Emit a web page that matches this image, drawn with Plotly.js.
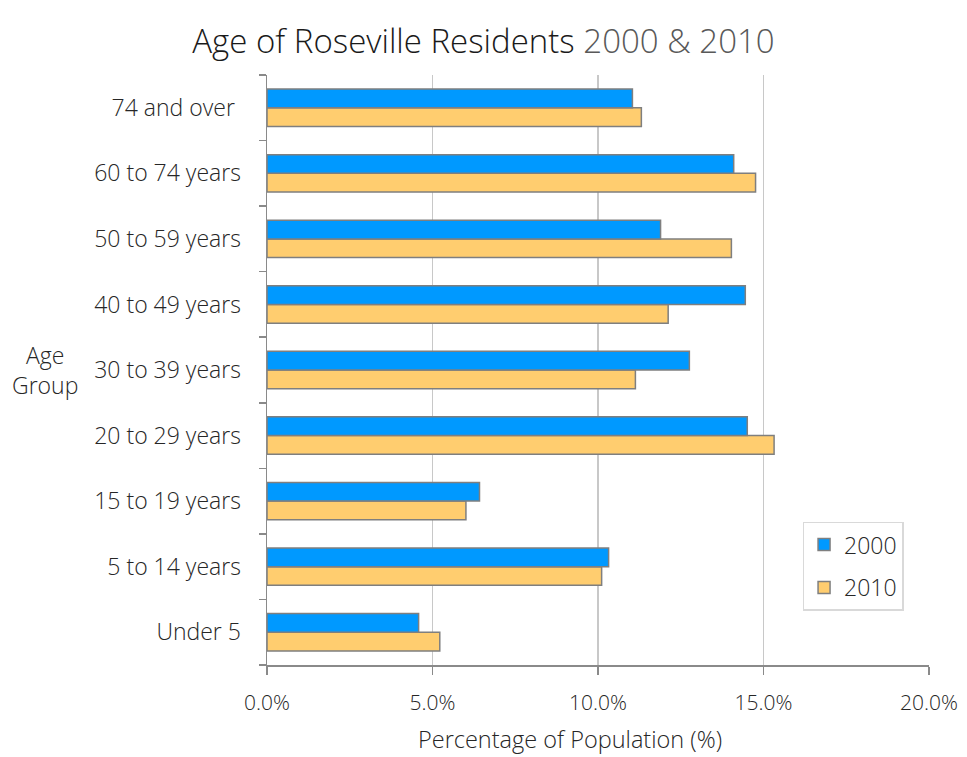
<!DOCTYPE html>
<html>
<head>
<meta charset="utf-8">
<script src="https://cdn.plot.ly/plotly-3.0.1.min.js"></script>
<style>
  html, body { margin: 0; padding: 0; background: #fff; }
  #chart { width: 967px; height: 757px; }
</style>
</head>
<body>
<div id="chart"></div>
<script>
// Age groups, bottom to top
const ageGroups = [
  "Under 5", "5 to 14 years", "15 to 19 years", "20 to 29 years",
  "30 to 39 years", "40 to 49 years", "50 to 59 years", "60 to 74 years",
  "74 and over\u00a0"
];

// Share of population (%) per age group
const pct2000 = [4.58, 10.32, 6.42, 14.51, 12.76, 14.45, 11.89, 14.10, 11.04];
const pct2010 = [5.22, 10.11, 6.01, 15.32, 11.13, 12.12, 14.03, 14.76, 11.31];

const xTicks = [0, 5, 10, 15, 20];

const FONT = "Open Sans, Noto Sans, sans-serif";
const TEXT = "#262626";
const outline = { color: "#7f7f7f", width: 1.5 };

// 2010 is listed first so it sits below 2000 within each group
const traces = [
  {
    type: "bar", orientation: "h", name: "2010", legendgroup: "b", legendrank: 2,
    y: ageGroups, x: pct2010,
    marker: { color: "#FFCD6F", line: outline }
  },
  {
    type: "bar", orientation: "h", name: "2000", legendgroup: "a", legendrank: 1,
    y: ageGroups, x: pct2000,
    marker: { color: "#0099FF", line: outline }
  }
];

const layout = {
  width: 967, height: 757,
  margin: { l: 267, r: 38, t: 75, b: 92 },
  paper_bgcolor: "#fff", plot_bgcolor: "#fff",
  font: { family: FONT, size: 22, color: TEXT, weight: 300 },
  barmode: "group",
  bargap: 0.43,
  bargroupgap: 0,
  title: {
    text: 'Age of Roseville Residents <span style="color:#595959">2000 &amp; 2010</span>',
    font: { family: FONT, size: 33, color: "#1a1a1a", weight: 300 },
    x: 0.5, xref: "container", xanchor: "center",
    y: 0.945, yref: "container", yanchor: "middle"
  },
  xaxis: {
    range: [0, 20],
    tickvals: xTicks,
    ticktext: xTicks.map(v => v.toFixed(1) + "%"),
    showgrid: true, gridcolor: "#c8c8c8", gridwidth: 1.5,
    zeroline: false,
    showline: true, linecolor: "#8a8a8a", linewidth: 1.5,
    ticks: "outside", ticklen: 8, tickwidth: 1.5, tickcolor: "#8a8a8a",
    ticklabelstandoff: 10,
    tickfont: { family: FONT, size: 21, color: TEXT, weight: 300 },
    fixedrange: true
  },
  yaxis: {
    type: "category",
    categoryorder: "array", categoryarray: ageGroups,
    showgrid: false, zeroline: false,
    showline: true, linecolor: "#8a8a8a", linewidth: 1.5,
    ticks: "outside", tickson: "boundaries", ticklen: 7, tickwidth: 1.5, tickcolor: "#8a8a8a",
    ticklabelstandoff: 20,
    tickfont: { family: FONT, size: 23, color: TEXT, weight: 300 },
    fixedrange: true
  },
  legend: {
    x: 0.809, y: 0.243, xanchor: "left", yanchor: "top",
    traceorder: "grouped",
    bgcolor: "#fff", bordercolor: "#d9d9d9", borderwidth: 1.5,
    font: { family: FONT, size: 23, color: TEXT, weight: 300 },
    itemwidth: 30,
    tracegroupgap: 10
  },
  annotations: [
    {
      // y-axis title, set horizontally beside the category labels
      text: "Age<br>Group",
      xref: "paper", yref: "paper",
      x: -0.335, y: 0.5, xanchor: "center", yanchor: "middle",
      showarrow: false,
      font: { family: FONT, size: 23, color: TEXT, weight: 300 }
    },
    {
      // x-axis title
      text: "Percentage of Population (%)",
      xref: "paper", yref: "paper",
      x: 0.458, y: -0.126, xanchor: "center", yanchor: "middle",
      showarrow: false, borderpad: 0,
      font: { family: FONT, size: 23.5, color: TEXT, weight: 300 }
    }
  ],
  showlegend: true
};

Plotly.newPlot("chart", traces, layout, { displayModeBar: false, staticPlot: true });
</script>
</body>
</html>
